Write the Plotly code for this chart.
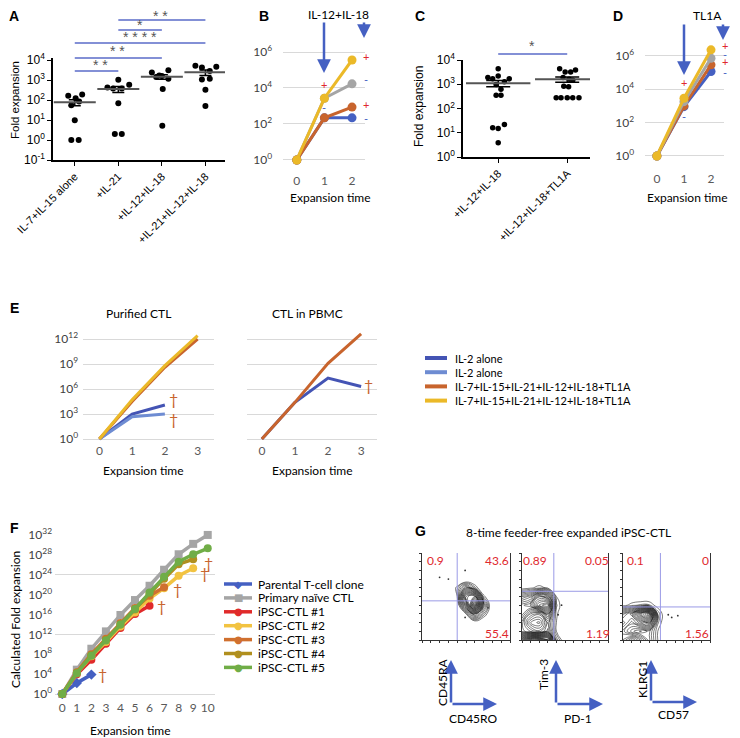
import numpy as np
import plotly.graph_objects as go

W, H = 740, 738
OFF = 8  # the page body adds an 8 px margin around the figure

# ---------------- data ----------------
# A: fold expansion per cytokine condition
a_groups = ["IL-7+IL-15 alone", "+IL-21", "+IL-12+IL-18", "+IL-21+IL-12+IL-18"]
a_cond1 = [162, 123, 190, 83, 54, 9.8, 1, 1]
a_cond2 = [1020, 420, 380, 380, 575, 69, 2, 2]
a_cond3 = [2340, 3100, 1400, 1590, 1150, 355, 5.2, 1700]
a_cond4 = [5130, 4170, 4570, 2820, 1070, 1150, 330, 50]
a_jitter = [[-0.15, 0.02, 0.17, 0.1, -0.08, 0, -0.08, 0.09],
            [0, -0.25, -0.12, 0.08, 0.25, 0, -0.08, 0.08],
            [-0.23, 0.15, -0.13, 0, 0.15, 0.02, 0.01, -0.06],
            [-0.23, -0.08, 0.25, 0.1, -0.08, 0.1, 0, 0]]
a_sig = [(0, 1, "* *"), (0, 2, "* *"), (0, 3, "* * * *"), (1, 2, "*"), (1, 3, "* *")]

# C
c_groups = ["+IL-12+IL-18", "+IL-12+IL-18+TL1A"]
c_cond1 = [4400, 1900, 1700, 2200, 1700, 1260, 980, 620, 350, 350, 16, 15, 22, 3.9]
c_cond2 = [4400, 3200, 3200, 3900, 1900, 1600, 1450, 830, 780, 275, 275, 275, 275, 275]
c_jitter = [[0, -0.15, -0.08, 0, 0.16, 0.09, -0.03, 0.04, -0.03, 0.04, -0.08, 0, 0.09, 0],
            [-0.11, -0.03, 0.05, 0.12, -0.06, 0.03, 0.08, -0.05, 0.02, -0.16, -0.09, 0, 0.08, 0.17]]

# B / D: expansion time courses
time3 = [0, 1, 2]
b_blue = [1, 220, 220]
b_orange = [1, 220, 870]
b_gray = [1, 2700, 17000]
b_yellow = [1, 2700, 360000]
d_blue = [1, 900, 115000]
d_orange = [1, 1000, 290000]
d_gray = [1, 1800, 720000]
d_yellow = [1, 2900, 2300000]

# E
time4 = [0, 1, 2, 3]
e_pur_il2a = [1, 1000, 12000]
e_pur_il2b = [1, 470, 1000]
e_pur_mixa = [1, 3.2e4, 4.0e8, 1.0e12]
e_pur_mixb = [1, 5.0e4, 6.3e8, 2.5e12]
e_pbmc_il2 = [1, 2.5e4, 2.0e7, 2.0e6]
e_pbmc_mix = [1, 2.5e4, 1.2e9, 4.0e12]
e_names = ["IL-2 alone", "IL-2 alone", "IL-7+IL-15+IL-21+IL-12+IL-18+TL1A",
           "IL-7+IL-15+IL-21+IL-12+IL-18+TL1A"]

# F
f_time = list(range(11))
f_parental = [1, 1.6e2, 8e3]
f_naive = [1, 8e4, 1.3e9, 4e12, 8e15, 8e18, 6e21, 1e25, 1.3e28, 1.6e30, 1e32]
f_ipsc1 = [1, 1e4, 8e6, 1.3e10, 2e13, 1.3e16, 6e17]
f_ipsc2 = [1, 1.6e4, 4e7, 3e10, 4e13, 2.5e16, 1.6e19, 2e21, 6e23, 2e25]
f_ipsc3 = [1, 2.5e4, 1e8, 1.3e11, 2e14, 2e17, 6e19, 3e21]
f_ipsc4 = [1, 2e4, 6e7, 8e10, 1e14, 1e17, 1.6e20, 1.6e23, 1.3e26, 1.3e27]
f_ipsc5 = [1, 1.6e4, 5e7, 6e10, 1e14, 1.3e17, 2.5e20, 4e23, 4e26, 1.3e28, 2e29]
f_names = ["Parental T-cell clone", "Primary naïve CTL", "iPSC-CTL #1", "iPSC-CTL #2",
           "iPSC-CTL #3", "iPSC-CTL #4", "iPSC-CTL #5"]

# G: contour density grids (x: CD45RO/PD-1/CD57, y: CD45RA/Tim-3/KLRG1, 0-100 scale)
g_axis = [0, 10, 20, 30, 40, 50, 60, 70, 80, 90, 100]
g1_z = [[0, 0, 0, 0, 0, 0, 0, 0, 0, 0, 0],
        [0, 0, 0, 0, 0, 0, 0, 0, 0, 0, 0],
        [0, 0, 0, 0, 0, 0, 0.4, 0, 0, 0, 0],
        [0, 0, 0, 0, 0, 1, 3.5, 1.6, 0, 0, 0],
        [0, 0, 0, 0, 0.3, 4, 9, 3, 0, 0, 0],
        [0, 0, 0, 0, 1, 6, 6.5, 1.2, 0, 0, 0],
        [0, 0, 0, 0, 1.2, 3, 1.5, 0, 0, 0, 0],
        [0, 0, 0, 0, 0, 0, 0, 0, 0, 0, 0],
        [0, 0, 0, 0, 0, 0, 0, 0, 0, 0, 0],
        [0, 0, 0, 0, 0, 0, 0, 0, 0, 0, 0],
        [0, 0, 0, 0, 0, 0, 0, 0, 0, 0, 0]]
g2_z = [[7, 9, 9, 8, 1.5, 0, 0, 0, 0, 0, 0],
        [3, 2.5, 2, 3, 0.6, 0, 0, 0, 0, 0, 0],
        [3, 1.2, 0.8, 2.5, 0.6, 0, 0, 0, 0, 0, 0],
        [4, 2.5, 2, 4, 0.7, 0, 0, 0, 0, 0, 0],
        [4, 4.5, 6.5, 7, 1, 0, 0, 0, 0, 0, 0],
        [2.5, 3, 5, 4, 0.6, 0, 0, 0, 0, 0, 0],
        [0.3, 0.5, 0.8, 0.5, 0, 0, 0, 0, 0, 0, 0],
        [0, 0, 0, 0, 0, 0, 0, 0, 0, 0, 0],
        [0, 0, 0, 0, 0, 0, 0, 0, 0, 0, 0],
        [0, 0, 0, 0, 0, 0, 0, 0, 0, 0, 0],
        [0, 0, 0, 0, 0, 0, 0, 0, 0, 0, 0]]
g3_z = [[3.5, 4.5, 3.5, 2, 0.6, 0, 0, 0, 0, 0, 0],
        [3, 2, 1.5, 2, 0.6, 0, 0, 0, 0, 0, 0],
        [4, 3, 4, 5, 1, 0, 0, 0, 0, 0, 0],
        [3, 4, 6.5, 8, 1.2, 0, 0, 0, 0, 0, 0],
        [0.4, 0.8, 1, 1, 0.3, 0, 0, 0, 0, 0, 0],
        [0, 0, 0, 0, 0, 0, 0, 0, 0, 0, 0],
        [0, 0, 0, 0, 0, 0, 0, 0, 0, 0, 0],
        [0, 0, 0, 0, 0, 0, 0, 0, 0, 0, 0],
        [0, 0, 0, 0, 0, 0, 0, 0, 0, 0, 0],
        [0, 0, 0, 0, 0, 0, 0, 0, 0, 0, 0],
        [0, 0, 0, 0, 0, 0, 0, 0, 0, 0, 0]]
g1_dots = ([20, 30, 49, 75, 49], [72, 70, 80, 37, 26])
g2_dots = ([42, 46], [29, 40])
g3_dots = ([52, 56, 63], [29, 26, 28])
g_quad = [(40, 45), (37, 56), (43, 38)]
g_pct = [("0.9", "43.6", "55.4"), ("0.89", "0.05", "1.19"), ("0.1", "0", "1.56")]
g_markers = [("CD45RA", "CD45RO"), ("Tim-3", "PD-1"), ("KLRG1", "CD57")]

# ---------------- style ----------------
BLUE = "#4560C2"
DBLUE = "#4454B4"
LBLUE = "#6E8CD2"
ORANGE = "#C8642D"
YELLOW = "#EBB928"
GRAY = "#A5A5A5"
RED = "#E0282E"
ARIAL = "Liberation Sans"
CAL = "Lato"


def px2x(px):
    return (px - OFF) / W


def px2y(py):
    return 1 - (py - OFF) / H


def dx(a, b):
    return [px2x(a), px2x(b)]


def dy(top, bottom):
    return [px2y(bottom), px2y(top)]


def pow10(exps):
    return [10.0 ** e for e in exps], ["10<sup>%d</sup>" % e for e in exps]


def sem(v):
    v = np.asarray(v, float)
    return v.std(ddof=1) / np.sqrt(len(v))


anns = []
shapes = []


def text(t, px, py, size=12, color="black", family=CAL, xanchor="center", **kw):
    anns.append(dict(text=t, x=px2x(px), y=px2y(py), xref="paper", yref="paper",
                     xanchor=xanchor, yanchor="middle", showarrow=False,
                     font=dict(size=size, color=color, family=family), **kw))


def arrow(px, py, ax, ay, color=BLUE, width=2.5):
    anns.append(dict(text="", x=px2x(px), y=px2y(py), xref="paper", yref="paper",
                     ax=ax, ay=ay, axref="pixel", ayref="pixel", showarrow=True,
                     arrowhead=2, arrowsize=1.1, arrowwidth=width, arrowcolor=color))


def hline(x0, x1, py, color, width):
    shapes.append(dict(type="line", xref="paper", yref="paper", x0=px2x(x0), x1=px2x(x1),
                       y0=px2y(py), y1=px2y(py), line=dict(color=color, width=width)))


fig = go.Figure()

# ---------------- A ----------------
a_all = [a_cond1, a_cond2, a_cond3, a_cond4]
for i, vals in enumerate(a_all):
    fig.add_trace(go.Scatter(x=[i + j for j in a_jitter[i]], y=vals, mode="markers",
                             marker=dict(color="black", size=6), xaxis="x", yaxis="y"))
fig.add_trace(go.Scatter(x=[0, 1, 2, 3], y=[np.mean(v) for v in a_all], mode="markers",
                         marker=dict(symbol="line-ew", size=30, line=dict(width=2, color="#555")),
                         error_y=dict(type="data", array=[sem(v) for v in a_all], color="black",
                                      thickness=1.5, width=6),
                         xaxis="x", yaxis="y"))
sig_y = [71, 58, 43, 30, 20]
for (g0, g1, star), yy in zip(a_sig, sig_y):
    shapes.append(dict(type="line", xref="x", yref="paper", x0=g0, x1=g1,
                       y0=px2y(yy), y1=px2y(yy), line=dict(color="#5A6BC8", width=1.5)))
star_pos = [(100, 65), (117, 51), (140, 37), (140, 25), (160, 16)]
for (g0, g1, star), (sx, sy) in zip(a_sig, star_pos):
    text(star, sx, sy, size=14, color="#555", family=ARIAL)

# ---------------- B ----------------
for vals, col in [(b_blue, BLUE), (b_gray, GRAY), (b_orange, ORANGE), (b_yellow, YELLOW)]:
    fig.add_trace(go.Scatter(x=time3, y=vals, mode="lines+markers",
                             line=dict(color=col, width=3), marker=dict(color=col, size=9),
                             xaxis="x2", yaxis="y2"))

# ---------------- C ----------------
c_all = [c_cond1, c_cond2]
for i, vals in enumerate(c_all):
    fig.add_trace(go.Scatter(x=[i + j for j in c_jitter[i]], y=vals, mode="markers",
                             marker=dict(color="black", size=5.5), xaxis="x3", yaxis="y3"))
fig.add_trace(go.Scatter(x=[0, 1], y=[np.mean(v) for v in c_all], mode="markers",
                         marker=dict(symbol="line-ew", size=46, line=dict(width=2, color="#555")),
                         error_y=dict(type="data", array=[sem(v) for v in c_all], color="black",
                                      thickness=1.5, width=12),
                         xaxis="x3", yaxis="y3"))
shapes.append(dict(type="line", xref="x3", yref="paper", x0=0, x1=1,
                   y0=px2y(54), y1=px2y(54), line=dict(color="#5A6BC8", width=1.5)))
text("*", 532, 46, size=14, color="#555", family=ARIAL)

# ---------------- D ----------------
for vals, col in [(d_blue, BLUE), (d_orange, ORANGE), (d_gray, GRAY), (d_yellow, YELLOW)]:
    fig.add_trace(go.Scatter(x=time3, y=vals, mode="lines+markers",
                             line=dict(color=col, width=3), marker=dict(color=col, size=9),
                             xaxis="x4", yaxis="y4"))

# ---------------- E ----------------
e_cols = [DBLUE, LBLUE, ORANGE, YELLOW]
for vals, col in zip([e_pur_il2a, e_pur_il2b, e_pur_mixa, e_pur_mixb], e_cols):
    fig.add_trace(go.Scatter(x=time4[:len(vals)], y=vals, mode="lines",
                             line=dict(color=col, width=3), xaxis="x5", yaxis="y5"))
for vals, col in [(e_pbmc_il2, DBLUE), (e_pbmc_mix, ORANGE)]:
    fig.add_trace(go.Scatter(x=time4, y=vals, mode="lines", line=dict(color=col, width=3),
                             xaxis="x6", yaxis="y6"))
# legend E (drawn by hand so rows sit 14 px apart)
for k, (name, col) in enumerate(zip(e_names, e_cols)):
    yy = 358 + 14.2 * k
    hline(425, 447, yy, col, 4)
    text(name, 453, yy, size=11, xanchor="left")

# ---------------- F ----------------
f_series = [f_parental, f_naive, f_ipsc1, f_ipsc2, f_ipsc3, f_ipsc4, f_ipsc5]
f_colors = [BLUE, GRAY, "#E02A2A", "#F2C341", "#D0702F", "#B08F1E", "#70AD47"]
f_symbols = ["diamond", "square", "circle", "circle", "circle", "circle", "circle"]
f_glyph = {"diamond": "◆", "square": "■", "circle": "●"}
for vals, col, sym in zip(f_series, f_colors, f_symbols):
    fig.add_trace(go.Scatter(x=f_time[:len(vals)], y=vals, mode="lines+markers",
                             line=dict(color=col, width=3.5),
                             marker=dict(color=col, size=8, symbol=sym),
                             xaxis="x7", yaxis="y7"))
for k, (name, col, sym) in enumerate(zip(f_names, f_colors, f_symbols)):
    yy = 584 + 13.9 * k
    hline(224, 252, yy, col, 3.5)
    text(f_glyph[sym], 238, yy, size=10, color=col, family="DejaVu Sans")
    text(name, 256, yy, size=12, xanchor="left")

# ---------------- G ----------------
g_z = [g1_z, g2_z, g3_z]
g_dots = [g1_dots, g2_dots, g3_dots]
g_start = [1.0, 0.6, 0.6]
for k in range(3):
    xa, ya = "x%d" % (9 + k), "y%d" % (9 + k)
    fig.add_trace(go.Contour(x=g_axis, y=g_axis, z=g_z[k], showscale=False,
                             contours=dict(coloring="lines", start=g_start[k], end=9.5, size=0.32),
                             line=dict(width=0.55, smoothing=1.3),
                             colorscale=[[0, "#111"], [1, "#111"]],
                             xaxis=xa, yaxis=ya, hoverinfo="skip"))
    fig.add_trace(go.Scatter(x=g_dots[k][0], y=g_dots[k][1], mode="markers",
                             marker=dict(color="#333", size=1.8), xaxis=xa, yaxis=ya))
    qx, qy = g_quad[k]
    shapes.append(dict(type="line", xref=xa, yref=ya, x0=qx, x1=qx, y0=0, y1=100,
                       line=dict(color="#9A9AE6", width=1)))
    shapes.append(dict(type="line", xref=xa, yref=ya, x0=0, x1=100, y0=qy, y1=qy,
                       line=dict(color="#9A9AE6", width=1)))

g_dom = [(422, 510), (522, 608), (623, 710)]
g_txt = [(435, 497, 497), (535, 597, 598), (635, 705, 697)]
for k in range(3):
    tl, tr, br = g_pct[k]
    text(tl, g_txt[k][0], 560, size=12, color=RED)
    text(tr, g_txt[k][1], 560, size=12, color=RED)
    text(br, g_txt[k][2], 633, size=12, color=RED)

corners = [(451, 704, 497), (556, 704, 603), (651, 702, 697)]
g_lab = [((442, 682), (473, 718)), ((543, 675), (578, 718)), ((642, 680), (673, 714))]
for k, (cx, cy, ex) in enumerate(corners):
    arrow(cx, 660, 0, cy - 660)
    arrow(ex, cy, cx - ex, 0)
    (vx, vy), (hx, hy) = g_lab[k]
    text(g_markers[k][0], vx, vy, size=12, textangle=-90)
    text(g_markers[k][1], hx, hy, size=12)
text("8-time feeder-free expanded iPSC-CTL", 568, 532, size=12)

# ---------------- text: B, D, E, F ----------------
text("IL-12+IL-18", 338, 15, size=12)
arrow(324, 73, 0, -52)
arrow(364, 38, 0, -17)
for s, px, py, col in [("+", 324, 85, RED), ("-", 324, 108, BLUE), ("+", 366, 57, RED),
                       ("-", 366, 80, BLUE), ("+", 366, 104, RED), ("-", 366, 118, BLUE)]:
    text(s, px, py, size=11, color=col)
text("Expansion time", 330, 197, size=12)

text("TL1A", 707, 16, size=12)
arrow(684, 75, 0, -52)
arrow(723, 40, 0, -17)
for s, px, py, col in [("+", 684, 82, RED), ("-", 684, 117, BLUE), ("+", 725, 45, RED),
                       ("-", 725, 54, BLUE), ("+", 725, 62, RED), ("-", 725, 72, BLUE)]:
    text(s, px, py, size=11, color=col)
text("Expansion time", 687, 197, size=12)

text("Purified CTL", 138, 313, size=12)
text("CTL in PBMC", 307, 313, size=12)
text("Expansion time", 143, 470, size=12)
text("Expansion time", 312, 470, size=12)
for px, py in [(173, 398), (173, 418), (368, 385)]:
    text("†", px, py, size=16, color=ORANGE)

text("Expansion time", 130, 730, size=12)
text("Calculated Fold expansion", 15, 620, size=12, textangle=-90)
for px, py in [(102, 673), (161, 605), (177, 588), (204, 572), (208, 562)]:
    text("†", px, py, size=16, color=ORANGE)

text("Fold expansion", 15, 100, size=11.5, family=ARIAL, textangle=-90)
text("Fold expansion", 419, 107, size=12, family=ARIAL, textangle=-90)

for letter, px, py in [("A", 14, 16), ("B", 264, 16), ("C", 420, 16), ("D", 618, 16),
                       ("E", 14, 308), ("F", 14, 528), ("G", 420, 531)]:
    text("<b>%s</b>" % letter, px, py, size=14, family=ARIAL)

# ---------------- axes ----------------
base = dict(automargin=False, zeroline=False)
prism_x = dict(base, showline=True, linecolor="black", linewidth=1.5, ticks="outside",
               ticklen=4, tickcolor="black", showgrid=False,
               tickfont=dict(family=ARIAL, size=11, color="black"))
prism_y = dict(base, type="log", showline=True, linecolor="black", linewidth=1.5,
               ticks="outside", ticklen=4, tickcolor="black", showgrid=False,
               tickfont=dict(family=ARIAL, size=12, color="black"))
xl_x = dict(base, showline=False, showgrid=False, ticks="",
            tickfont=dict(family=CAL, size=12, color="#595959"))
xl_y = dict(base, type="log", showline=False, showgrid=True, gridcolor="#D9D9D9", gridwidth=1,
            ticks="", tickfont=dict(family=CAL, size=12, color="#404040"))

av, at = pow10([-1, 0, 1, 2, 3, 4])
cv, ct = pow10([0, 1, 2, 3, 4])
bv, bt = pow10([0, 2, 4, 6])
ev, et = pow10([0, 3, 6, 9, 12])
fv, ft = pow10(list(range(0, 33, 4)))
fg, _ = pow10([0, 12, 24])

layout_axes = dict(
    xaxis=dict(prism_x, domain=dx(53, 225), range=[-0.5, 3.45], anchor="y",
               tickvals=[0, 1, 2, 3], ticktext=a_groups, tickangle=-45),
    yaxis=dict(prism_y, domain=dy(58, 160), range=[-1, 4.1], anchor="x",
               tickvals=av, ticktext=at),
    xaxis2=dict(xl_x, domain=dx(283, 365), range=[-0.5, 2.47], anchor="y2", tickvals=time3),
    yaxis2=dict(xl_y, domain=dy(45, 172), range=[-0.67, 6.39], anchor="x2",
                tickvals=bv, ticktext=bt, ticklabelstandoff=10),
    xaxis3=dict(prism_x, domain=dx(463, 590), range=[-0.51, 1.33], anchor="y3",
                tickvals=[0, 1], ticktext=c_groups, tickangle=-45),
    yaxis3=dict(prism_y, domain=dy(60, 157), range=[0, 4.0], anchor="x3",
                tickvals=cv, ticktext=ct),
    xaxis4=dict(xl_x, domain=dx(645, 724), range=[-0.44, 2.48], anchor="y4", tickvals=time3),
    yaxis4=dict(xl_y, domain=dy(40, 170), range=[-0.84, 6.95], anchor="x4",
                tickvals=bv, ticktext=bt, ticklabelstandoff=10),
    xaxis5=dict(xl_x, domain=dx(83, 214), range=[-0.5, 3.5], anchor="y5", tickvals=time4),
    yaxis5=dict(xl_y, domain=dy(325, 442), range=[-0.36, 13.68], anchor="x5",
                tickvals=ev, ticktext=et, ticklabelstandoff=4),
    xaxis6=dict(xl_x, domain=dx(247, 377), range=[-0.45, 3.48], anchor="y6", tickvals=time4),
    yaxis6=dict(xl_y, domain=dy(325, 442), range=[-0.36, 13.68], anchor="x6",
                tickvals=ev, showticklabels=False),
    xaxis7=dict(xl_x, domain=dx(55, 215), range=[-0.5, 10.5], anchor="y7",
                tickvals=f_time),
    yaxis7=dict(xl_y, domain=dy(525, 699), range=[-1.0, 34], anchor="x7",
                tickvals=fv, ticktext=ft, showgrid=False, ticklabelstandoff=2,
                minor=dict(tickvals=fg, showgrid=True, gridcolor="#D9D9D9", ticks="")),
)
for k, (l, r) in enumerate(g_dom):
    n = 9 + k
    layout_axes["xaxis%d" % n] = dict(base, domain=dx(l, r), range=[0, 100], anchor="y%d" % n,
                                      showline=True, linecolor="#333", linewidth=1,
                                      ticks="outside", ticklen=2, dtick=10, tickcolor="#333",
                                      showticklabels=False, showgrid=False)
    layout_axes["yaxis%d" % n] = dict(base, domain=dy(553, 640), range=[0, 100], anchor="x%d" % n,
                                      showline=True, linecolor="#333", linewidth=1, mirror=True,
                                      ticks="outside", ticklen=2, dtick=10, tickcolor="#333",
                                      showticklabels=False, showgrid=False)

fig.update_layout(
    template="none",
    width=W, height=H, margin=dict(l=0, r=0, t=0, b=0, autoexpand=False),
    paper_bgcolor="white", plot_bgcolor="white",
    font=dict(family=CAL, size=12, color="black"),
    showlegend=False,
    annotations=anns, shapes=shapes,
    **layout_axes,
)

fig.write_html("out.html")
